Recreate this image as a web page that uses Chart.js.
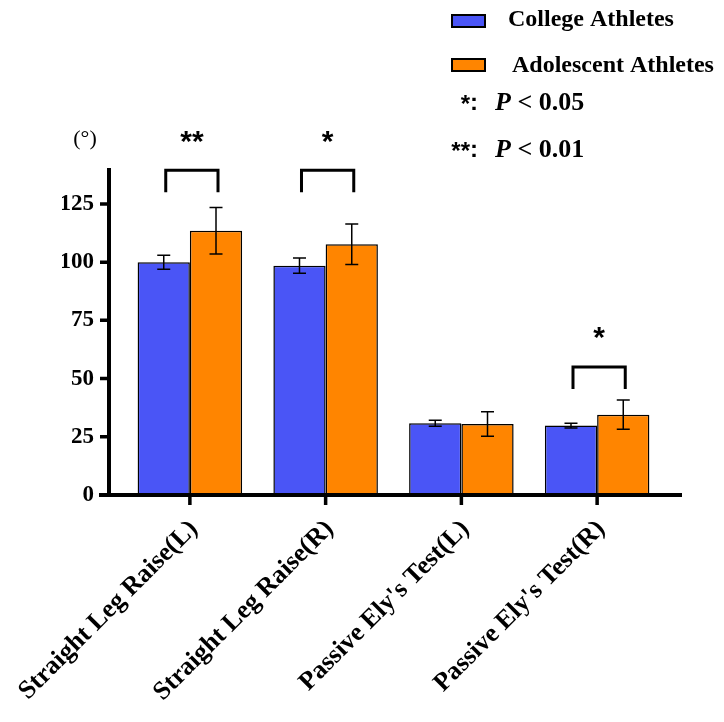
<!DOCTYPE html>
<html>
<head>
<meta charset="utf-8">
<script src="https://cdn.jsdelivr.net/npm/chart.js@4.4.1/dist/chart.umd.min.js"></script>
<style>
  html, body { margin: 0; padding: 0; background: #fff; }
  #wrap { width: 724px; height: 722px; }
</style>
</head>
<body>
<div id="wrap"><canvas id="chart"></canvas></div>
<script>
// data
const categories = ["Straight Leg Raise(L)", "Straight Leg Raise(R)", "Passive Ely's Test(L)", "Passive Ely's Test(R)"];
const collegeMeans = [100, 98.5, 30.8, 29.8];
const collegeSD = [3, 3.3, 1.3, 1];
const adolescentMeans = [113.5, 107.7, 30.5, 34.5];
const adolescentSD = [10, 8.7, 5.3, 6.3];
const yMax = 140;
const yStep = 25;

// significance brackets: category index, label, level (bracket foot)
const sigIndex = [0, 1, 3];
const sigLabels = ["**", "*", "*"];
const sigLevels = [130, 130, 45.5];

const blue = "#4A55F6";
const orange = "#FF8500";
const serif = "'Liberation Serif', 'Times New Roman', serif";
const sans = "'Liberation Sans', Arial, sans-serif";

// error bars
const errorBars = {
  id: "errorBars",
  afterDatasetsDraw(chart) {
    const ctx = chart.ctx;
    const y = chart.scales.y;
    const sds = [collegeSD, adolescentSD];
    ctx.save();
    ctx.strokeStyle = "#000";
    ctx.lineWidth = 1.5;
    chart.data.datasets.forEach((ds, di) => {
      chart.getDatasetMeta(di).data.forEach((bar, i) => {
        const top = y.getPixelForValue(ds.data[i] + sds[di][i]);
        const bot = y.getPixelForValue(ds.data[i] - sds[di][i]);
        ctx.beginPath();
        ctx.moveTo(bar.x, top); ctx.lineTo(bar.x, bot);
        ctx.moveTo(bar.x - 6.5, top); ctx.lineTo(bar.x + 6.5, top);
        ctx.moveTo(bar.x - 6.5, bot); ctx.lineTo(bar.x + 6.5, bot);
        ctx.stroke();
      });
    });
    ctx.restore();
  }
};

// prism-like axes
const axes = {
  id: "axes",
  afterDatasetsDraw(chart) {
    const ctx = chart.ctx;
    const a = chart.chartArea;
    const x = chart.scales.x;
    const y = chart.scales.y;
    const ax = a.left - 13;
    ctx.save();
    ctx.strokeStyle = "#000";
    ctx.lineCap = "butt";
    ctx.lineWidth = 4;
    ctx.beginPath();
    ctx.moveTo(ax, a.top - 1); ctx.lineTo(ax, a.bottom + 2);
    ctx.moveTo(a.left - 23, a.bottom); ctx.lineTo(a.right + 17, a.bottom);
    ctx.stroke();
    ctx.lineWidth = 3.5;
    ctx.beginPath();
    y.ticks.forEach(t => {
      const py = y.getPixelForValue(t.value);
      ctx.moveTo(ax - 9, py); ctx.lineTo(ax, py);
    });
    categories.forEach((c, i) => {
      const px = x.getPixelForValue(i);
      ctx.moveTo(px, a.bottom); ctx.lineTo(px, a.bottom + 10);
    });
    ctx.stroke();

    // significance brackets
    const m0 = chart.getDatasetMeta(0).data;
    const m1 = chart.getDatasetMeta(1).data;
    ctx.lineWidth = 3;
    ctx.fillStyle = "#000";
    ctx.font = "bold 30px " + sans;
    ctx.textAlign = "center";
    ctx.textBaseline = "middle";
    sigIndex.forEach((ci, k) => {
      const foot = y.getPixelForValue(sigLevels[k]);
      const top = foot - 22;
      const x0 = m0[ci].x + 2, x1 = m1[ci].x + 2;
      ctx.beginPath();
      ctx.moveTo(x0, foot); ctx.lineTo(x0, top); ctx.lineTo(x1, top); ctx.lineTo(x1, foot);
      ctx.stroke();
      ctx.fillText(sigLabels[k], (x0 + x1) / 2, top - 28);
    });

    // unit label
    ctx.font = "22px " + serif;
    ctx.fillText("(\u00B0)", ax - 24, a.top - 30);
    ctx.restore();
  }
};

// legend block, top right
const legendBlock = {
  id: "legendBlock",
  afterDraw(chart) {
    const ctx = chart.ctx;
    ctx.save();
    ctx.textBaseline = "alphabetic";
    ctx.textAlign = "left";
    ctx.lineWidth = 2;
    ctx.strokeStyle = "#000";
    const rows = [[blue, "College Athletes", 15, 508, 26], [orange, "Adolescent Athletes", 59, 512, 72]];
    rows.forEach(r => {
      ctx.fillStyle = r[0];
      ctx.fillRect(452, r[2], 33, 12);
      ctx.strokeRect(452, r[2], 33, 12);
      ctx.fillStyle = "#000";
      ctx.font = "bold 24px " + serif;
      ctx.fillText(r[1], r[3], r[4]);
    });
    const pv = [["*", "0.05", 110], ["**", "0.01", 157]];
    pv.forEach(p => {
      ctx.font = "bold 24px " + sans;
      ctx.textAlign = "right";
      ctx.fillText(p[0], 470, p[2] + 2);
      ctx.textAlign = "left";
      ctx.fillText(":", 470, p[2]);
      ctx.font = "italic bold 26px " + serif;
      ctx.fillText("P", 495, p[2]);
      const w = ctx.measureText("P ").width;
      ctx.font = "bold 26px " + serif;
      ctx.fillText("< " + p[1], 495 + w, p[2]);
    });
    ctx.restore();
  }
};

new Chart(document.getElementById("chart"), {
  type: "bar",
  data: {
    labels: categories,
    datasets: [
      { label: "College Athletes", data: collegeMeans, backgroundColor: blue, borderColor: "#000", borderWidth: 1.5 },
      { label: "Adolescent Athletes", data: adolescentMeans, backgroundColor: orange, borderColor: "#000", borderWidth: 1.5 }
    ]
  },
  options: {
    responsive: true,
    maintainAspectRatio: false,
    animation: false,
    layout: { padding: { left: 62, right: 59, top: 169, bottom: 0 } },
    datasets: { bar: { categoryPercentage: 0.77, barPercentage: 1 } },
    plugins: { legend: { display: false }, tooltip: { enabled: false } },
    scales: {
      x: {
        grid: { display: false, drawTicks: false },
        border: { display: false },
        afterFit: s => { s.height = 227; s.paddingLeft = 0; s.paddingRight = 0; },
        ticks: {
          autoSkip: false,
          maxRotation: 45,
          minRotation: 45,
          padding: 19,
          labelOffset: 4,
          color: "#000",
          font: { family: serif, size: 26, weight: "bold" }
        }
      },
      y: {
        min: 0,
        max: yMax,
        grid: { display: false, drawTicks: false },
        border: { display: false },
        afterFit: s => { s.width = 60; s.paddingTop = 0; s.paddingBottom = 0; },
        ticks: {
          stepSize: yStep,
          includeBounds: false,
          padding: 28,
          color: "#000",
          font: { family: serif, size: 23, weight: "bold" }
        }
      }
    }
  },
  plugins: [errorBars, axes, legendBlock]
});
</script>
</body>
</html>
